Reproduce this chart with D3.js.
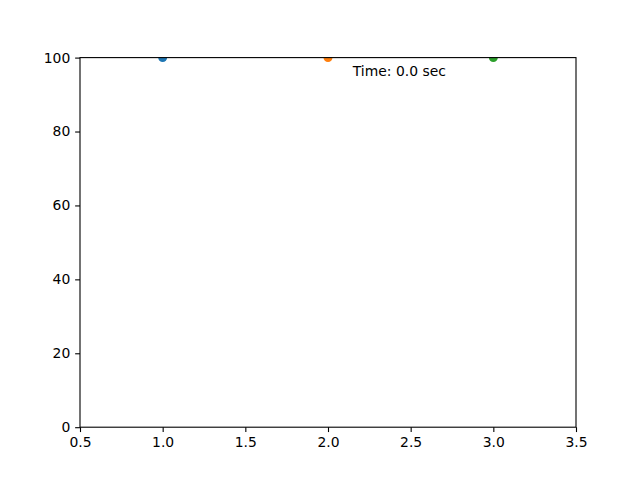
<!DOCTYPE html>
<html>
<head>
<style>
* { margin: 0; padding: 0; }
body { background: #fff; }
svg { display: block; }
text { font-family: "DejaVu Sans", sans-serif; }
</style>
<script src="https://cdn.jsdelivr.net/npm/d3@7"></script>
</head>
<body>
<div id="chart"></div>
<script>
var xs = [1, 2, 3];
var ys = [100, 100, 100];
var colors = ['#1f77b4', '#ff7f0e', '#2ca02c'];
var xTicks = [0.5, 1.0, 1.5, 2.0, 2.5, 3.0, 3.5];
var yTicks = [0, 20, 40, 60, 80, 100];
var label = 'Time: 0.0 sec';

var W = 640, H = 480;
var mLeft = 80, mRight = 576, mTop = 57.6, mBottom = 427.2;

var svg = d3.select('#chart').append('svg')
	.attr('width', W)
	.attr('height', H);

var x = d3.scaleLinear().domain([0.5, 3.5]).range([mLeft, mRight]);
var y = d3.scaleLinear().domain([0, 100]).range([mBottom, mTop]);

// points are clipped to the axes box, like matplotlib does
svg.append('clipPath').attr('id', 'clip')
	.append('rect')
	.attr('x', mLeft).attr('y', mTop)
	.attr('width', mRight - mLeft).attr('height', mBottom - mTop);

svg.append('g').attr('clip-path', 'url(#clip)')
	.selectAll('circle')
	.data(xs)
	.enter()
	.append('circle')
	.attr('cx', function (d) { return x(d); })
	.attr('cy', function (d, i) { return y(ys[i]); })
	.attr('r', 4.5)
	.style('fill', function (d, i) { return colors[i]; });

var xAxis = svg.append('g')
	.attr('transform', 'translate(0,' + mBottom + ')')
	.call(d3.axisBottom(x).tickValues(xTicks).tickFormat(d3.format('.1f')).tickSizeInner(4.86).tickSizeOuter(0).tickPadding(4.86));
var yAxis = svg.append('g')
	.attr('transform', 'translate(' + mLeft + ',0)')
	.call(d3.axisLeft(y).tickValues(yTicks).tickFormat(d3.format('d')).tickSizeInner(4.86).tickSizeOuter(0).tickPadding(4.86));

[xAxis, yAxis].forEach(function (a) {
	a.selectAll('text').style('font-size', '13.9px').style('fill', '#000').style('font-family', '"DejaVu Sans", sans-serif');
	a.selectAll('line').style('stroke', '#000').style('stroke-width', 1.1);
	a.select('.domain').remove();
});

svg.append('rect')
	.attr('x', mLeft).attr('y', mTop)
	.attr('width', mRight - mLeft).attr('height', mBottom - mTop)
	.style('fill', 'none')
	.style('stroke', '#000')
	.style('stroke-width', 1.1);

svg.append('text')
	.attr('x', mLeft + 0.55 * (mRight - mLeft))
	.attr('y', mTop + 0.05 * (mBottom - mTop))
	.style('font-size', '13.9px')
	.style('fill', '#000')
	.text(label);
</script>
</body>
</html>
